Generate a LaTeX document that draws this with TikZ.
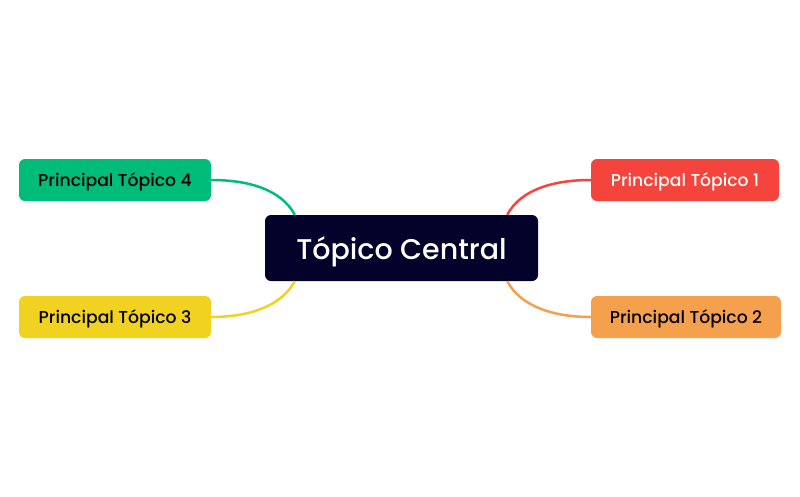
\documentclass[tikz,border=0pt]{standalone}
\usepackage{fontspec}
\setmainfont{Poppins}
\newfontfamily\medfont{Poppins Medium}
\definecolor{navy}{HTML}{02022B}
\definecolor{cred}{HTML}{F5443C}
\definecolor{corange}{HTML}{F5A04C}
\definecolor{cgreen}{HTML}{00BC7A}
\definecolor{cyellow}{HTML}{F2D220}
\begin{document}
\begin{tikzpicture}[x=1pt,y=-1pt,
  central/.style={fill=navy,rounded corners=6pt,minimum width=273pt,minimum height=66pt,text=white,font=\medfont\fontsize{28.5}{30}\selectfont,inner sep=0pt,text depth=0pt},
  sub/.style={rounded corners=6pt,minimum height=42pt,inner sep=0pt,text depth=0pt,font=\medfont\fontsize{17.2}{19}\selectfont},
  link/.style={line width=2.5pt}]
\useasboundingbox (0,0) rectangle (800,496);
\node[central] (c) at (401.5,248) {Tópico Central};
\node[sub,fill=cred,text=white,minimum width=188pt] (t1) at (685,180) {Principal Tópico 1};
\node[sub,fill=corange,text=black,minimum width=190pt] (t2) at (686,317) {Principal Tópico 2};
\node[sub,fill=cyellow,text=black,minimum width=192pt] (t3) at (115,317) {Principal Tópico 3};
\node[sub,fill=cgreen,text=black,minimum width=192pt] (t4) at (115,180) {Principal Tópico 4};
\coordinate (a1) at ([xshift=-31pt]c.north east);
\coordinate (a2) at ([xshift=-31pt]c.south east);
\coordinate (a3) at ([xshift=30pt]c.south west);
\coordinate (a4) at ([xshift=30pt]c.north west);
\draw[link,cred] (a1) .. controls ++(14,-26) and ++(-36,0) .. (t1.west);
\draw[link,corange] (a2) .. controls ++(14,26) and ++(-36,0) .. (t2.west);
\draw[link,cyellow] (a3) .. controls ++(-14,26) and ++(36,0) .. (t3.east);
\draw[link,cgreen] (a4) .. controls ++(-14,-26) and ++(36,0) .. (t4.east);
\end{tikzpicture}
\end{document}
